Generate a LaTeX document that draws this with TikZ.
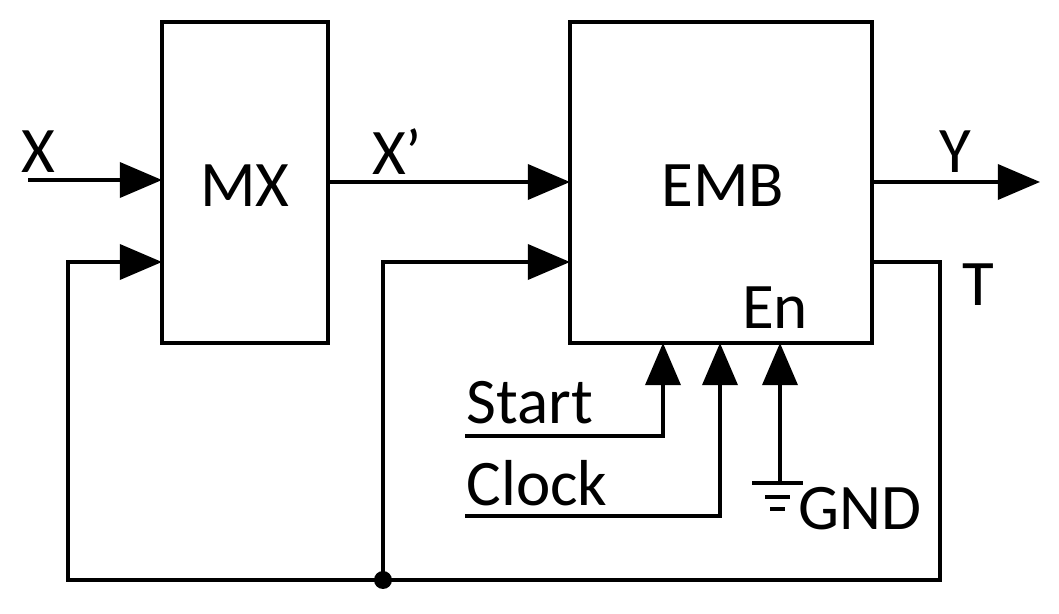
\documentclass[tikz,border=0pt]{standalone}
\usepackage{fontspec}
\setmainfont{Carlito}
\usetikzlibrary{arrows.meta}
\begin{document}
\begin{tikzpicture}[x=0.02cm,y=-0.02cm,line width=1.9pt,
  ar/.style={-{Triangle[length=24pt,width=20pt]}},
  lbl/.style={font=\fontsize{37}{44}\selectfont,inner sep=0pt},
  box/.style={draw,line width=2.3pt,inner sep=0pt}]
\useasboundingbox (0,0) rectangle (1059,614);
\node[box,minimum width=166*0.02cm,minimum height=321*0.02cm] (mx) at (245,182.5) {};
\node[lbl] at (245,186) {MX};
\node[box,minimum width=302*0.02cm,minimum height=321*0.02cm] (emb) at (721,182.5) {};
\node[lbl] at (723,186) {EMB};
\node[lbl] (en) at (775,308) {En};
\coordinate (xin) at (28,180);
\node[lbl] (x) at (38,152) {X};
\draw[ar] (xin) -- (162,180);
\node[lbl] (xp) at (397,152) {X’};
\draw[ar] (328,182) -- (570,182);
\node[lbl] (y) at (955,152) {Y};
\draw[ar] (872,182) -- (1040,182);
\node[lbl] (t) at (978,285) {T};
\coordinate (dot) at (383,580);
\draw[ar] (872,262) -- (940,262) -- (940,580) -- (68,580) -- (68,262) -- (162,262);
\draw[ar] (dot) -- (383,262) -- (570,262);
\fill (dot) circle (9);
\node[lbl,anchor=base west] (st) at (465,424) {Start};
\draw[ar] (465,436) -- (663,436) -- (663,343);
\node[lbl,anchor=base west] (cl) at (465,506) {Clock};
\draw[ar] (465,516) -- (720,516) -- (720,343);
\draw[ar] (780,483) -- (780,343);
\draw (752,483) -- (803,483) (765,497) -- (790,497) (770,509) -- (785,509);
\node[lbl,anchor=base west] (gnd) at (797,530) {GND};
\end{tikzpicture}
\end{document}
